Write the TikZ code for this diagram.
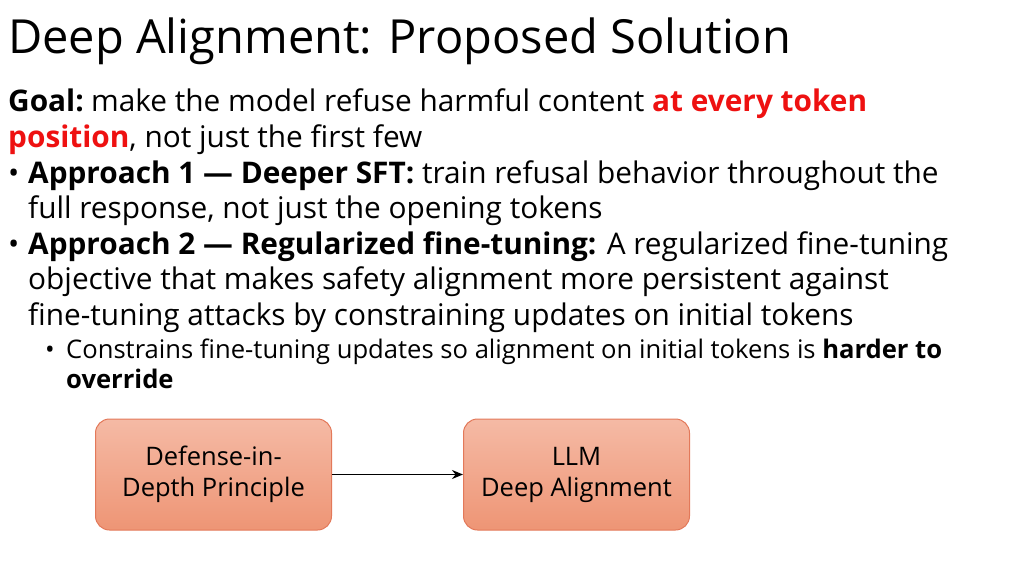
\documentclass[tikz,border=0pt]{standalone}
\usepackage{fontspec}
\setmainfont{Open Sans}
\usetikzlibrary{arrows.meta}
\definecolor{hl}{HTML}{EE1111}
\definecolor{boxline}{HTML}{E3795A}
\definecolor{boxtop}{HTML}{F5BAA5}
\definecolor{boxbot}{HTML}{EE9575}
\begin{document}
\begin{tikzpicture}[x=1pt,y=-1pt,
  txt/.style={anchor=base west,inner sep=0pt,font=\fontsize{29.8}{34}\selectfont},
  sub/.style={anchor=base west,inner sep=0pt,font=\fontsize{25.6}{30}\selectfont},
  box/.style={draw=boxline,line width=1pt,rounded corners=14pt,top color=boxtop,bottom color=boxbot,minimum height=111pt,align=center,font=\fontsize{25.5}{31}\selectfont}]
\useasboundingbox (0,0) rectangle (1024,575);
\node[anchor=base west,inner sep=0pt,font=\fontsize{47}{52}\selectfont] (title) at (8,54) {Deep Alignment: Proposed Solution};
\node[txt] (g1) at (8,112) {\textbf{Goal:}\hspace{-3pt} make the model refuse harmful content \textcolor{hl}{\textbf{at every token}}};
\node[txt] (g2) at (8,147) {\textcolor{hl}{\textbf{position}}, not just the first few};
\node[txt] (b1) at (8,183) {•};
\node[txt] (a1) at (28,183) {\textbf{Approach 1 — Deeper SFT:} train refusal behavior throughout the};
\node[txt] (a1b) at (28,218) {full response, not just the opening tokens};
\node[txt] (b2) at (8,254) {•};
\node[txt] (a2) at (28,254) {\textbf{Approach 2 — Regularized fine-tuning:} A regularized fine-tuning};
\node[txt] (a2b) at (28,289) {objective that makes safety alignment more persistent against};
\node[txt] (a2c) at (28,325) {fine-tuning attacks by constraining updates on initial tokens};
\node[sub] (b3) at (45,358) {•};
\node[sub] (s1) at (66,358) {Constrains fine-tuning updates so alignment on initial tokens is \textbf{harder to}};
\node[sub] (s2) at (66,388) {\textbf{override}};
\node[box,minimum width=236pt] (L) at (213.5,474.5) {Defense-in-\\Depth Principle};
\node[box,minimum width=226pt] (R) at (576.5,474.5) {LLM\\Deep Alignment};
\draw[line width=1.8pt,-{Stealth[length=11pt,width=9pt]}] (L) -- (R);
\end{tikzpicture}
\end{document}
